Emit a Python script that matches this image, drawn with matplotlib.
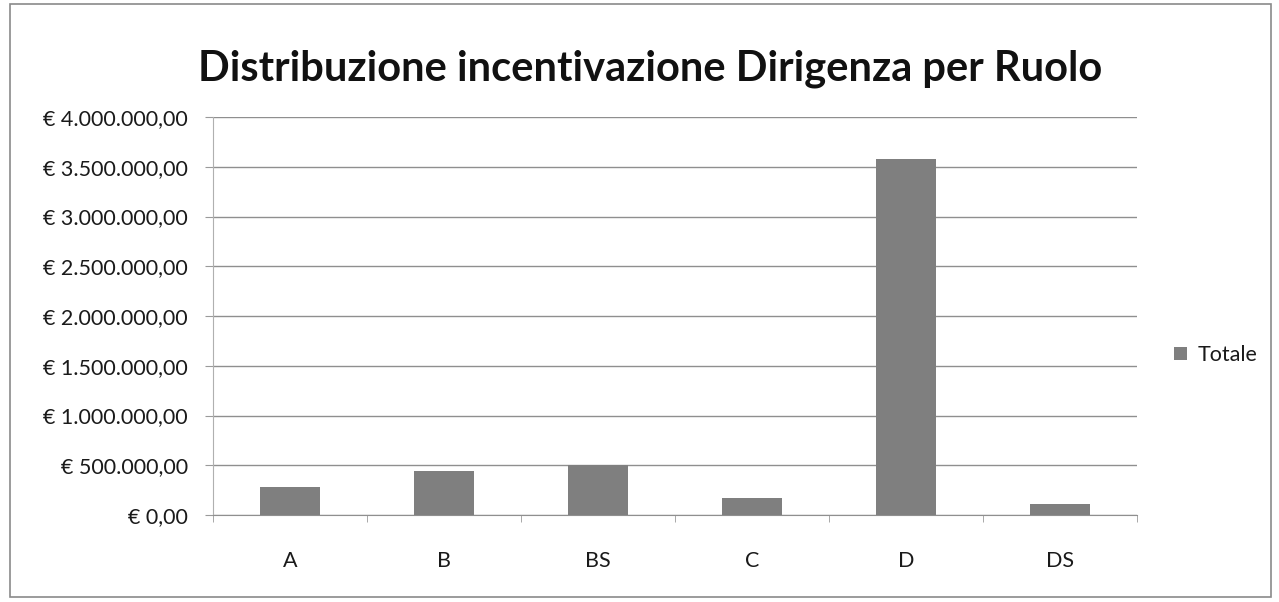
import matplotlib
matplotlib.use("Agg")
import matplotlib.pyplot as plt
from matplotlib.ticker import FuncFormatter, MultipleLocator, FixedLocator
from matplotlib.patches import Rectangle

categories = ["A", "B", "BS", "C", "D", "DS"]
values = [280000, 440000, 505000, 175000, 3580000, 110000]
series_name = "Totale"
title = "Distribuzione incentivazione Dirigenza per Ruolo"

plt.rcParams['font.family'] = ['Lato', 'DejaVu Sans']

fig = plt.figure(figsize=(12.79, 6.02), dpi=100)
fig.patch.set_facecolor("white")
ax = fig.add_axes([0.1665, 0.1445, 0.7225, 0.661])

x = range(len(categories))
ax.bar(x, values, width=0.39, color="#7f7f7f", label=series_name, zorder=3)

ax.set_xlim(-0.5, len(categories) - 0.5)
ax.set_ylim(0, 4000000)
ax.yaxis.set_major_locator(MultipleLocator(500000))

def eur(v, pos):
    s = f"{v:,.2f}".replace(",", "X").replace(".", ",").replace("X", ".")
    return "€ " + s

ax.yaxis.set_major_formatter(FuncFormatter(eur))
ax.set_xticks(list(x))
ax.set_xticklabels(categories)
ax.xaxis.set_minor_locator(FixedLocator([i + 0.5 for i in range(-1, len(categories))]))
ax.tick_params(axis="x", which="major", length=0, pad=26, labelsize=15.5, labelcolor="#1a1a1a")
ax.tick_params(axis="x", which="minor", length=5, color="#9a9a9a", direction="out")
ax.tick_params(axis="y", length=6, color="#9a9a9a", labelsize=15.5, pad=12, labelcolor="#1a1a1a")

ax.grid(axis="y", color="#8f8f8f", linewidth=1.0, zorder=0)
for s in ["top", "right"]:
    ax.spines[s].set_visible(False)
ax.spines["left"].set_color("#b0b0b0")
ax.spines["bottom"].set_color("#8f8f8f")

fig.text(0.508, 0.885, title, ha="center", va="center", fontsize=30, fontweight="bold", color="#111111")

leg = fig.legend(loc="center left", bbox_to_anchor=(0.918, 0.41), frameon=False,
                 fontsize=15.5, handlelength=0.6, handleheight=0.6, handletextpad=0.5,
                 borderpad=0, borderaxespad=0)
for t in leg.get_texts():
    t.set_color("#1a1a1a")

fig.add_artist(Rectangle((0.008, 0.008), 0.986, 0.985, transform=fig.transFigure,
                         fill=False, edgecolor="#8a8a8a", linewidth=1.2))

fig.savefig("out.png", dpi=100)
